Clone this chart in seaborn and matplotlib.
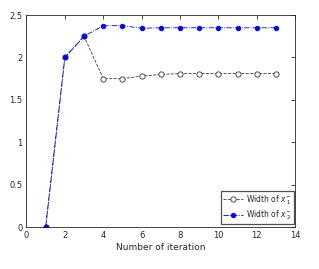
import matplotlib
matplotlib.use("Agg")
import matplotlib.pyplot as plt
import seaborn as sns
import pandas as pd

iterations = [1, 2, 3, 4, 5, 6, 7, 8, 9, 10, 11, 12, 13]
width_x1 = [0.0, 2.0, 2.25, 1.75, 1.75, 1.78, 1.80, 1.81, 1.81, 1.81, 1.81, 1.81, 1.81]
width_x2 = [0.0, 2.0, 2.25, 2.375, 2.375, 2.345, 2.35, 2.35, 2.35, 2.35, 2.35, 2.35, 2.35]
xticks = [0, 2, 4, 6, 8, 10, 12, 14]
yticks = [0, 0.5, 1, 1.5, 2, 2.5]

df = pd.DataFrame({"iter": iterations, "x1": width_x1, "x2": width_x2})

sns.set_style("white")
plt.rcParams['font.family'] = ['DejaVu Sans']

fig = plt.figure(figsize=(3.19, 2.69), dpi=100)
ax = fig.add_axes([0.083, 0.156, 0.842, 0.788])

sns.lineplot(data=df, x="iter", y="x1", ax=ax, color="#404040", linestyle="--",
             linewidth=0.6, marker="o", markersize=3.8, markerfacecolor="white",
             markeredgecolor="#333333", markeredgewidth=0.6,
             label=r"Width of $x^{-}_{\ 1}$")
sns.lineplot(data=df, x="iter", y="x2", ax=ax, color="#0000ff", linestyle="-.",
             linewidth=0.6, marker="o", markersize=3.3, markerfacecolor="#0000ff",
             markeredgecolor="#0000ff", markeredgewidth=0.6,
             label=r"Width of $x^{-}_{\ 2}$")

ax.set_xlim(0, 14)
ax.set_ylim(0, 2.5)
ax.set_xticks(xticks)
ax.set_yticks(yticks)
ax.set_xticklabels([str(t) for t in xticks])
ax.set_yticklabels(["0", "0.5", "1", "1.5", "2", "2.5"])
ax.set_xlabel("Number of iteration", fontsize=6.5, color="#262626", labelpad=2)
ax.set_ylabel("")
ax.tick_params(direction="in", length=3, width=0.6, labelsize=6, colors="#262626",
               top=True, right=True, pad=3)
for s in ax.spines.values():
    s.set_color("#262626")
    s.set_linewidth(0.6)

leg = ax.legend(loc="lower right", fontsize=5.5, frameon=True, fancybox=False,
                borderpad=0.25, handlelength=2.6, handletextpad=0.4,
                labelspacing=0.25, borderaxespad=0.0,
                bbox_to_anchor=(0.995, 0.015))
leg.get_frame().set_edgecolor("#262626")
leg.get_frame().set_linewidth(0.9)

fig.savefig("out.png", dpi=100)
